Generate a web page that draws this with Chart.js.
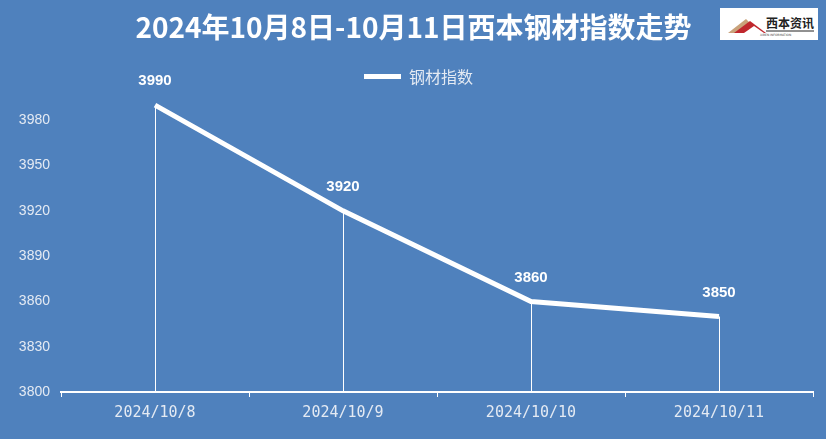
<!DOCTYPE html>
<html>
<head>
<meta charset="utf-8">
<script src="https://cdn.jsdelivr.net/npm/chart.js@4"></script>
<style>
  html, body { margin: 0; padding: 0; background: #4f81bd; }
  #wrap { position: relative; width: 826px; height: 439px; }
  #logo { position: absolute; left: 720px; top: 8px; width: 98px; height: 32px; background: #fff; }
</style>
</head>
<body>
<div id="wrap">
  <canvas id="steelChart" width="826" height="439"></canvas>
  <div id="logo">
    <svg width="98" height="32" viewBox="0 0 98 32">
      <polygon points="8,25 26,11 40,25" fill="#c9a27a"/>
      <polygon points="14,25 30,13 46,25" fill="#c0272d"/>
      <polygon points="24,25 34,18 44,25" fill="#fff"/>
      <text x="46" y="20" font-family="Noto Sans CJK SC" font-weight="bold" font-size="12" fill="#222">西本资讯</text>
      <line x1="46" y1="23" x2="94" y2="23" stroke="#222" stroke-width="1"/>
      <text x="40" y="28" font-family="DejaVu Sans" font-size="3" fill="#444">XIBEN INFORMATION</text>
    </svg>
  </div>
</div>
<script>
// chart data
const dates = ['2024/10/8', '2024/10/9', '2024/10/10', '2024/10/11'];
const indexValues = [3990, 3920, 3860, 3850];
const yTicks = [3800, 3830, 3860, 3890, 3920, 3950, 3980];

const textColor = '#e4eaf3';

// nudge title and legend a little right, like the original layout
const shiftHeader = {
    id: 'shiftHeader',
    afterLayout(chart) {
        if (chart.titleBlock) {
            chart.titleBlock.left += 7;
            chart.titleBlock.right += 7;
        }
        if (chart.legend) {
            chart.legend.left += 12;
            chart.legend.right += 12;
        }
    }
};

// vertical lines from each point down to the x axis
const dropLines = {
    id: 'dropLines',
    afterDatasetsDraw(chart) {
        const ctx = chart.ctx;
        const bottom = chart.chartArea.bottom;
        const meta = chart.getDatasetMeta(0);
        ctx.save();
        ctx.strokeStyle = '#ffffff';
        ctx.lineWidth = 1;
        meta.data.forEach(pt => {
            const x = Math.round(pt.x) + 0.5;
            ctx.beginPath();
            ctx.moveTo(x, pt.y);
            ctx.lineTo(x, bottom);
            ctx.stroke();
        });
        ctx.restore();
    }
};

// value labels above points
const valueLabels = {
    id: 'valueLabels',
    afterDatasetsDraw(chart) {
        const ctx = chart.ctx;
        const meta = chart.getDatasetMeta(0);
        ctx.save();
        ctx.fillStyle = '#ffffff';
        ctx.font = 'bold 15px "Liberation Sans", Arial, sans-serif';
        ctx.textAlign = 'center';
        ctx.textBaseline = 'middle';
        meta.data.forEach((pt, i) => {
            ctx.fillText(indexValues[i], pt.x, pt.y - 24);
        });
        ctx.restore();
    }
};

new Chart(document.getElementById('steelChart'), {
    type: 'line',
    data: {
        labels: dates,
        datasets: [{
            label: '钢材指数',
            data: indexValues,
            borderColor: '#ffffff',
            backgroundColor: '#ffffff',
            borderWidth: 5,
            pointRadius: 0,
            tension: 0
        }]
    },
    options: {
        responsive: false,
        animation: false,
        layout: { padding: { left: 0, right: 13, top: 0, bottom: 0 } },
        scales: {
            x: {
                offset: true,
                grid: {
                    offset: true,
                    drawOnChartArea: false,
                    color: '#ffffff',
                    tickLength: 5,
                    tickWidth: 1
                },
                border: { color: '#ffffff', width: 2 },
                ticks: {
                    color: textColor,
                    font: { family: '"DejaVu Sans Mono", monospace', size: 15 },
                    padding: 7
                },
                afterFit(scale) { scale.height = 47; }
            },
            y: {
                min: 3800,
                max: 3997,
                grid: { display: false, tickLength: 0 },
                border: { display: false },
                ticks: {
                    color: textColor,
                    font: { family: '"Liberation Sans", Arial, sans-serif', size: 14 },
                    padding: 11,
                    callback: v => String(v)
                },
                afterBuildTicks(scale) {
                    scale.ticks = yTicks.map(v => ({ value: v }));
                },
                afterFit(scale) { scale.width = 61; }
            }
        },
        plugins: {
            title: {
                display: true,
                text: '2024年10月8日-10月11日西本钢材指数走势',
                color: '#ffffff',
                font: { family: '"Noto Sans CJK SC", sans-serif', size: 28, weight: 'bold' },
                padding: { top: 11, bottom: 18 }
            },
            legend: {
                display: true,
                labels: {
                    color: textColor,
                    font: { family: '"Noto Sans CJK SC", sans-serif', size: 16 },
                    usePointStyle: true,
                    pointStyle: 'line',
                    pointStyleWidth: 37,
                    boxWidth: 37,
                    padding: 6
                }
            },
            tooltip: { enabled: false }
        }
    },
    plugins: [shiftHeader, dropLines, valueLabels]
});
</script>
</body>
</html>
